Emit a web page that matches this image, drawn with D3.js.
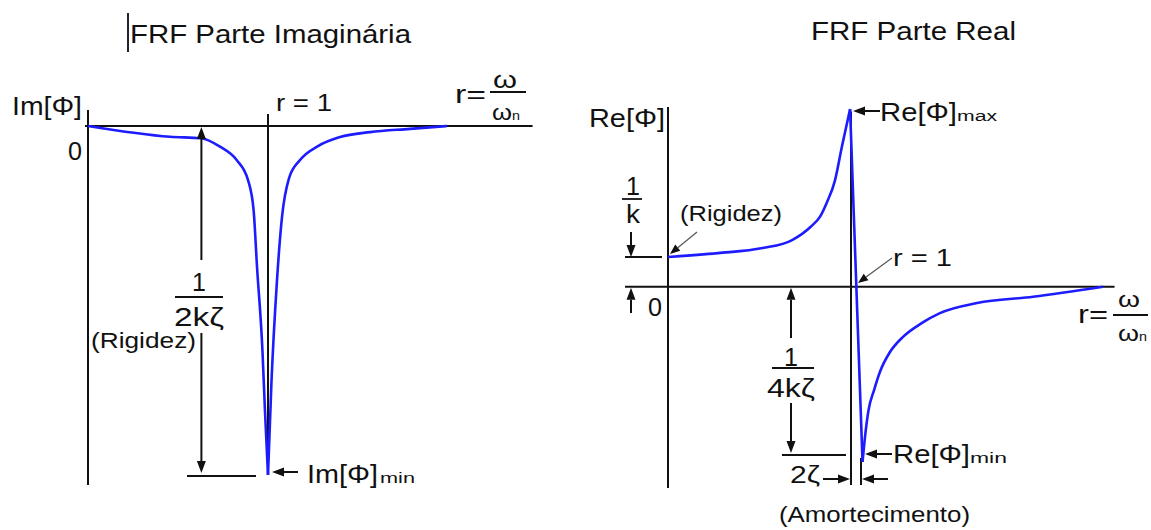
<!DOCTYPE html>
<html>
<head>
<meta charset="utf-8">
<script src="https://cdn.jsdelivr.net/npm/d3@7"></script>
<style>
  html, body { margin: 0; padding: 0; background: #fff; }
  svg { display: block; }
  text { font-family: "Liberation Sans", Arial, sans-serif; fill: #111; }
</style>
</head>
<body>
<svg id="chart" width="1151" height="530"></svg>
<script>
// ---- Imaginary part of the receptance FRF, in units of 1/k, versus r = ω/ωn
const imagR = [0, 0.456, 0.628, 0.733, 0.826, 0.889, 0.92, 0.939, 0.969, 0.983, 1.0,
               1.019, 1.049, 1.078, 1.117, 1.178, 1.278, 1.4, 1.567, 1.789, 1.994];
const imagV = [0, -0.37, -0.42, -0.71, -1.17, -1.86, -2.89, -4.84, -7.70, -9.77, -12,
               -8.84, -5.40, -3.12, -1.79, -1.17, -0.69, -0.38, -0.21, -0.10, 0];

// ---- Real part of the receptance FRF, in units of 1/k, versus r = ω/ωn
const realR = [0, 0.273, 0.517, 0.678, 0.78, 0.831, 0.867, 0.913, 0.951, 0.995,
               1.063, 1.077, 1.096, 1.126, 1.158, 1.213, 1.284, 1.388, 1.486, 1.689, 1.995, 2.377];
const realV = [1.0, 1.13, 1.30, 1.57, 2.02, 2.36, 2.82, 3.59, 4.74, 5.98,
               -5.90, -5.03, -4.15, -3.48, -2.87, -2.20, -1.69, -1.22, -0.89, -0.55, -0.34, 0];

// ---- Text labels
const titles = ["FRF Parte Imaginária", "FRF Parte Real"];
const imagLabel = "Im[Φ]";
const realLabel = "Re[Φ]";
const rigidez = "(Rigidez)";
const amortecimento = "(Amortecimento)";

const INK = "#111";
const BLUE = "#1c1cff";
const svg = d3.select("#chart");

// scales for each panel
const xL = d3.scaleLinear().domain([0, 1]).range([88, 268]);
const yL = d3.scaleLinear().domain([-12, 0]).range([475, 126]);
const xR = d3.scaleLinear().domain([0, 1]).range([668, 851]);
const yR = d3.scaleLinear().domain([0, 6]).range([286.7, 108.5]);

function txt(g, x, y, s, o = {}) {
  const t = g.append("text")
    .attr("x", x).attr("y", y)
    .attr("font-size", o.size || 25)
    .attr("text-anchor", o.anchor || "start")
    .text(s);
  if (o.w) t.attr("textLength", o.w).attr("lengthAdjust", "spacingAndGlyphs");
  return t;
}
function seg(g, x1, y1, x2, y2, w = 2, c = INK) {
  return g.append("line")
    .attr("x1", x1).attr("y1", y1).attr("x2", x2).attr("y2", y2)
    .attr("stroke", c).attr("stroke-width", w);
}
// line ending in a filled arrowhead at (x2, y2)
function arrow(g, x1, y1, x2, y2, o = {}) {
  const L = o.len || 12, W = o.half || 4.5;
  const dx = x2 - x1, dy = y2 - y1, n = Math.hypot(dx, dy);
  const ux = dx / n, uy = dy / n;
  const bx = x2 - ux * L, by = y2 - uy * L;
  seg(g, x1, y1, bx, by, o.w || 2, o.c || INK);
  g.append("path")
    .attr("d", `M${x2},${y2}L${bx - uy * W},${by + ux * W}L${bx + uy * W},${by - ux * W}Z`)
    .attr("fill", INK);
}
// stacked fraction: numerator, bar, denominator
function frac(g, cx, yBar, x0, x1, num, den, size, yNum, yDen, wDen) {
  txt(g, cx, yNum, num, { size, anchor: "middle" });
  seg(g, x0, yBar, x1, yBar, 1.8);
  txt(g, cx, yDen, den, { size, anchor: "middle", w: wDen });
}
// draw a curve split at its sharp extremum indices so the peaks stay pointed
function drawCurve(g, xs, ys, xScale, yScale, breaks) {
  const pts = xs.map((r, i) => [xScale(r), yScale(ys[i])]);
  const cuts = [0, ...breaks, pts.length - 1];
  for (let k = 0; k < cuts.length - 1; k++) {
    const part = pts.slice(cuts[k], cuts[k + 1] + 1);
    const gen = d3.line().curve(part.length > 2 ? d3.curveMonotoneX : d3.curveLinear);
    g.append("path").attr("d", gen(part))
      .attr("fill", "none").attr("stroke", BLUE)
      .attr("stroke-width", 2.6).attr("stroke-linejoin", "round");
  }
}

// ================= Left panel: imaginary part =================
const gL = svg.append("g");
seg(gL, 128, 13, 128, 52, 2, "#223");
txt(gL, 130, 43, titles[0], { size: 25, w: 281 });

seg(gL, xL(0), yL(0) - 16, xL(0), yL(-12) + 10);      // vertical axis
seg(gL, xL(0) - 3, yL(0), xL(2.47), yL(0));            // r axis
seg(gL, xL(1), yL(0) - 12, xL(1), yL(-12) - 2);        // r = 1 line

drawCurve(gL, imagR, imagV, xL, yL, [d3.minIndex(imagV)]);

txt(gL, 12, 115, imagLabel, { size: 25, w: 70 });
txt(gL, 68, 160, "0", { size: 25, w: 14 });
txt(gL, 276, 111, "r = 1", { size: 24, w: 56 });

// r = ω/ωn
txt(gL, 455, 103, "r=", { size: 25, w: 31 });
seg(gL, 490, 92, 526, 92, 1.8);
txt(gL, 505, 88, "ω", { size: 24, anchor: "middle", w: 24 });
txt(gL, 492, 120, "ω", { size: 22, w: 20 });
txt(gL, 512, 120, "n", { size: 12, w: 8 });

// 1/(2kζ) dimension
const dL = xL(0.63);
arrow(gL, dL, 260, dL, yL(0) + 1);
arrow(gL, dL, 333, dL, yL(-12) - 2);
seg(gL, 187, yL(-12) + 1, 256, yL(-12) + 1);
frac(gL, 199, 297, 175, 223, "1", "2kζ", 25, 291, 326, 50);
txt(gL, 196, 348, rigidez, { size: 22, anchor: "end", w: 105 });

// Im[Φ]min
arrow(gL, 298, 472, xL(1) + 4, 472);
txt(gL, 307, 483, imagLabel, { size: 25, w: 71 });
txt(gL, 380, 483, "min", { size: 14, w: 35 });

// ================= Right panel: real part =================
const gR = svg.append("g");
txt(gR, 811, 40, titles[1], { size: 25, w: 205 });

seg(gR, xR(0), 107, xR(0), 488);                       // vertical axis
seg(gR, 625, yR(0), xR(2.44), yR(0));                  // r axis
seg(gR, xR(1), yR(5.9), xR(1), 485);                   // r = 1 line
seg(gR, 861, 458, 861, 485);                           // 2ζ marker

drawCurve(gR, realR, realV, xR, yR, [d3.maxIndex(realV), d3.minIndex(realV)]);

txt(gR, 589, 127, realLabel, { size: 25, w: 76 });

// 1/k
frac(gR, 633, 199, 622, 642, "1", "k", 25, 195, 223, 14);
arrow(gR, 631, 232, 631, yR(1));
seg(gR, 625, yR(1), 662, yR(1));
txt(gR, 680, 221, rigidez, { size: 22, w: 102 });
arrow(gR, 697, 232, xR(0) + 2, yR(1) - 3, { w: 1.2, c: "#555", len: 10, half: 4 });

// 0 marker
arrow(gR, 631, 313, 631, yR(0) + 1);
txt(gR, 648, 316, "0", { size: 25, w: 14 });

// r = 1 pointer
txt(gR, 893, 266, "r = 1", { size: 24, w: 59 });
arrow(gR, 892, 258, 858, 283, { w: 1.2, c: "#555", len: 10, half: 4 });

// Re[Φ]max / Re[Φ]min
arrow(gR, 880, 111, 853, 111);
txt(gR, 880, 121, realLabel, { size: 25, w: 77 });
txt(gR, 957, 121, "max", { size: 14, w: 40 });
arrow(gR, 892, 454, 865, 454);
txt(gR, 893, 463, realLabel, { size: 25, w: 77 });
txt(gR, 970, 463, "min", { size: 14, w: 37 });

// 1/(4kζ) dimension
const dR = 791;
arrow(gR, dR, 338, dR, yR(0) + 1);
arrow(gR, dR, 403, dR, 453);
seg(gR, 782, 455, 846, 455);
frac(gR, 791, 368, 772, 814, "1", "4kζ", 25, 366, 397, 48);

// 2ζ width
txt(gR, 790, 483, "2ζ", { size: 24, w: 30 });
arrow(gR, 823, 479, 850, 479);
arrow(gR, 888, 479, 862, 479);
txt(gR, 779, 522, amortecimento, { size: 22, w: 191 });

// r = ω/ωn
txt(gR, 1078, 323, "r=", { size: 25, w: 30 });
seg(gR, 1113, 315, 1148, 315, 1.8);
txt(gR, 1129, 307, "ω", { size: 22, anchor: "middle", w: 22 });
txt(gR, 1118, 341, "ω", { size: 22, w: 21 });
txt(gR, 1139, 341, "n", { size: 12, w: 8 });
</script>
</body>
</html>
